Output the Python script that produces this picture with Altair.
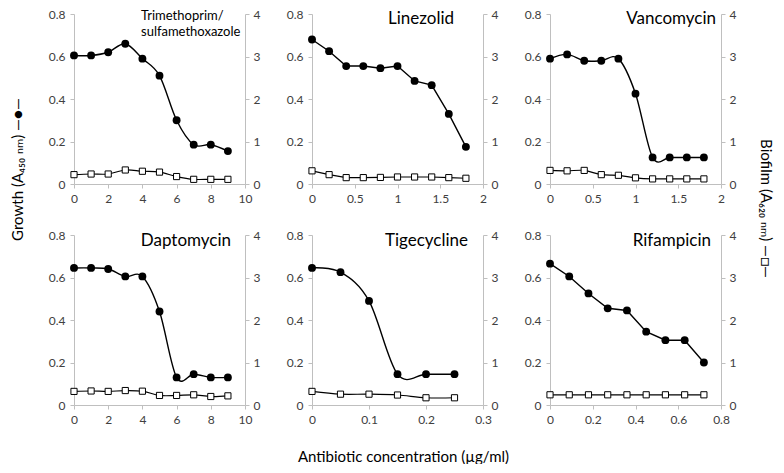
import altair as alt
import pandas as pd

# ---------------- data ----------------
panel_titles = ["Trimethoprim/\nsulfamethoxazole", "Linezolid", "Vancomycin",
                "Daptomycin", "Tigecycline", "Rifampicin"]

tmp_conc = [0, 1, 2, 3, 4, 5, 6, 7, 8, 9]
tmp_growth = [0.605, 0.605, 0.62, 0.66, 0.59, 0.51, 0.30, 0.185, 0.185, 0.155]
tmp_biofilm = [0.22, 0.235, 0.235, 0.33, 0.30, 0.28, 0.175, 0.11, 0.11, 0.11]

lzd_conc = [0, 0.2, 0.4, 0.6, 0.8, 1.0, 1.2, 1.4, 1.6, 1.8]
lzd_growth = [0.68, 0.625, 0.555, 0.555, 0.545, 0.555, 0.485, 0.465, 0.33, 0.175]
lzd_biofilm = [0.31, 0.22, 0.15, 0.15, 0.155, 0.165, 0.165, 0.165, 0.15, 0.135]

van_conc = [0, 0.2, 0.4, 0.6, 0.8, 1.0, 1.2, 1.4, 1.6, 1.8]
van_growth = [0.59, 0.61, 0.58, 0.58, 0.59, 0.425, 0.125, 0.125, 0.125, 0.125]
van_biofilm = [0.32, 0.31, 0.32, 0.22, 0.205, 0.145, 0.12, 0.12, 0.12, 0.12]

dap_conc = [0, 1, 2, 3, 4, 5, 6, 7, 8, 9]
dap_growth = [0.645, 0.645, 0.64, 0.605, 0.605, 0.44, 0.13, 0.145, 0.13, 0.13]
dap_biofilm = [0.32, 0.33, 0.32, 0.34, 0.325, 0.225, 0.225, 0.24, 0.2, 0.215]

tgc_conc = [0, 0.05, 0.1, 0.15, 0.2, 0.25]
tgc_growth = [0.645, 0.625, 0.49, 0.145, 0.145, 0.145]
tgc_biofilm = [0.32, 0.255, 0.255, 0.235, 0.17, 0.17]

rif_conc = [0, 0.09, 0.18, 0.27, 0.36, 0.45, 0.54, 0.63, 0.72]
rif_growth = [0.665, 0.605, 0.525, 0.455, 0.445, 0.345, 0.305, 0.305, 0.2]
rif_biofilm = [0.24, 0.24, 0.24, 0.24, 0.24, 0.24, 0.24, 0.24, 0.24]

x_domains = [[0, 10], [0, 2], [0, 2], [0, 10], [0, 0.3], [0, 0.8]]
x_ticks = [[0, 2, 4, 6, 8, 10], [0, 0.5, 1, 1.5, 2], [0, 0.5, 1, 1.5, 2],
           [0, 2, 4, 6, 8, 10], [0, 0.1, 0.2, 0.3], [0, 0.2, 0.4, 0.6, 0.8]]
growth_ticks = [0, 0.2, 0.4, 0.6, 0.8]
biofilm_ticks = [0, 1, 2, 3, 4]

growth_title = "Growth (A\u2084\u2085\u2080 \u2099\u2098)  \u2014\u25CF\u2014"
biofilm_title = "Biofilm (A\u2086\u2082\u2080 \u2099\u2098)  \u2014\u25A1\u2014"
x_title = "Antibiotic concentration (\u00B5g/ml)"

# ---------------- layout / style ----------------
W, H = 171, 170
FONT = "Lato, DejaVu Sans"
AX_GREY = "#bfbfbf"
LBL = "#404040"

interps = ["cardinal", "linear", "cardinal", "cardinal", "cardinal", "linear"]
# title placement: (align, x, y, baseline, fontsize)
title_pos = [("left", 67, -4, "top", 13), ("right", 142, 5, "middle", 17),
             ("right", 166, 5, "middle", 17), ("right", 157, 6, "middle", 17),
             ("right", 156, 6, "middle", 17), ("right", 161, 6, "middle", 17)]

series = [(tmp_conc, tmp_growth, tmp_biofilm), (lzd_conc, lzd_growth, lzd_biofilm),
          (van_conc, van_growth, van_biofilm), (dap_conc, dap_growth, dap_biofilm),
          (tgc_conc, tgc_growth, tgc_biofilm), (rif_conc, rif_growth, rif_biofilm)]


def make_panel(i):
    conc, growth, biofilm = series[i]
    df = pd.DataFrame({"conc": conc, "growth": growth, "biofilm": biofilm})
    base = alt.Chart(df)

    xaxis_kw = dict(values=x_ticks[i], format="~f", labelFlush=False, labelOverlap=False,
                    labelPadding=5, tickSize=4)
    if i == 4:
        xaxis_kw.update(title=x_title, titleX=91, titleY=44, titleAlign="center",
                        titleBaseline="top", titleFontSize=15)
    else:
        xaxis_kw.update(title=None)
    x = alt.X("conc:Q", scale=alt.Scale(domain=x_domains[i], nice=False, zero=False),
              axis=alt.Axis(**xaxis_kw))

    gaxis_kw = dict(orient="left", values=growth_ticks, tickSize=4, labelPadding=5,
                    labelExpr="datum.value == 0 ? '0' : format(datum.value, '.1f')")
    if i == 0:
        gaxis_kw.update(title=growth_title, titleX=-49, titleY=155, titleAngle=270,
                        titleAlign="center", titleBaseline="bottom", titleFontSize=15)
    else:
        gaxis_kw.update(title=None)
    gy = alt.Y("growth:Q", scale=alt.Scale(domain=[0, 0.8], nice=False),
               axis=alt.Axis(**gaxis_kw))

    baxis_kw = dict(orient="right", values=biofilm_ticks, format="d", tickSize=4,
                    labelPadding=4)
    if i == 2:
        baxis_kw.update(title=biofilm_title, titleX=36, titleY=194, titleAngle=90,
                        titleAlign="center", titleBaseline="bottom", titleFontSize=15)
    else:
        baxis_kw.update(title=None)
    by = alt.Y("biofilm:Q", scale=alt.Scale(domain=[0, 4], nice=False),
               axis=alt.Axis(**baxis_kw))

    g_line = base.mark_line(color="black", strokeWidth=1.4,
                            interpolate=interps[i]).encode(x=x, y=gy)
    g_pts = base.mark_point(shape="circle", filled=True, color="black", size=62,
                            opacity=1).encode(x=x, y=gy)
    b_line = base.mark_line(color="black", strokeWidth=1.2,
                            interpolate=interps[i]).encode(x=x, y=by)
    b_pts = base.mark_point(shape="square", filled=True, fill="white", stroke="black",
                            strokeWidth=1, size=38, opacity=1).encode(x=x, y=by)

    al, tx, ty, tb, tfs = title_pos[i]
    txt = alt.Chart(pd.DataFrame({"t": [panel_titles[i]]})).mark_text(
        align=al, baseline=tb, font=FONT, fontSize=tfs, color="black",
        lineBreak="\n", lineHeight=16
    ).encode(text="t:N", x=alt.value(tx), y=alt.value(ty))

    growth_layer = alt.layer(g_line, g_pts)
    biofilm_layer = alt.layer(b_line, b_pts)
    return alt.layer(growth_layer, biofilm_layer, txt).resolve_scale(
        y="independent").properties(width=W, height=H)


panels = [make_panel(i) for i in range(6)]

chart = alt.concat(
    *panels, columns=3, spacing={"row": 51, "column": 67}, bounds="flush"
).properties(
    padding={"left": 2, "top": 0, "right": 2, "bottom": 0}
).configure_view(
    stroke=None
).configure_axis(
    domainColor=AX_GREY, tickColor=AX_GREY, domainWidth=1, tickWidth=1,
    labelColor=LBL, labelFont=FONT, labelFontSize=12, grid=False,
    titleFont=FONT, titleFontWeight="normal", titleColor="black"
)

chart.save("out.html", embed_options={"renderer": "svg", "actions": False})
